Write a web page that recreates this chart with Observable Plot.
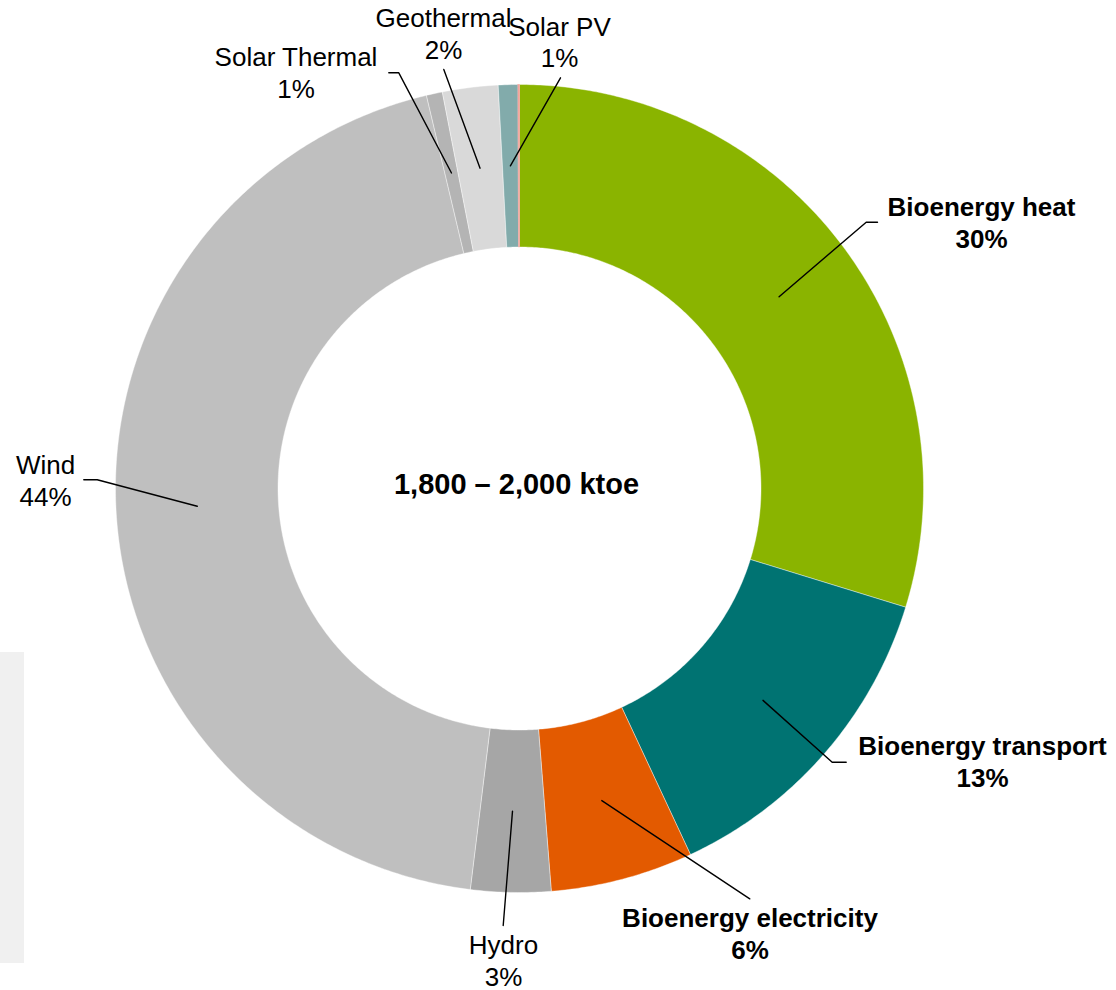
<!DOCTYPE html>
<html><head><meta charset="utf-8">
<script src="https://cdn.jsdelivr.net/npm/d3@7"></script>
<script src="https://cdn.jsdelivr.net/npm/@observablehq/plot@0.6"></script>
<style>
body{margin:0;background:#fff;font-family:"Liberation Sans",Arial,sans-serif;}
#wrap{position:relative;width:1116px;height:990px;overflow:hidden;}
#side{position:absolute;left:0;top:652px;width:24px;height:311px;background:#f0f0f0;}
</style></head><body><div id="wrap"></div>
<script>
// ---- data ----
const sources = ["Bioenergy heat","Bioenergy transport","Bioenergy electricity","Hydro","Wind","Solar Thermal","Geothermal","Solar PV","Other"];
const shares  = [29.75, 13.3, 5.7, 3.2, 44.36, 0.64, 2.22, 0.78, 0.06];
const pctLabels = ["30%","13%","6%","3%","44%","1%","2%","1%",""];
const boldLabel = [true, true, true, false, false, false, false, false, false];
const centerText = "1,800 – 2,000 ktoe";

// ---- styles / layout ----
const colors = ["#8ab400","#007372","#e35a00","#a6a6a6","#bfbfbf","#b4b4b4","#d9d9d9","#82abab","#f4a39c"];
const W = 1116, H = 990, cx = 519, cy = 488, R0 = 404, R1 = 241.5, Rmid = (R0 + R1) / 2;
// leader elbows and label anchors (pixel layout)
const leaderElbows = [
  [[865.7,221.7],[877,221.7]],
  [[831.7,761.7],[845.7,761.7]],
  [[749.3,898.3]],
  [[502.7,925]],
  [[96.7,479.3],[83.3,479.3]],
  [[398.3,72.3],[388.3,72.3]],
  [[443.3,69]],
  [[560,77.3]],
  null
];
const labelAnchors = [[981,247],[982,786],[749.5,958],[503,985],[45,505],[295.5,97],[443,58],[559,66.5],null];

// ---- geometry from data ----
const total = d3.sum(shares);
let acc = 0;
const slices = sources.map((name, i) => {
  const a0 = acc / total * 2 * Math.PI; acc += shares[i];
  const a1 = acc / total * 2 * Math.PI;
  return {name, i, a0, a1, am: (a0 + a1) / 2};
});
const poly = [];
for (const s of slices) {
  const n = Math.max(2, Math.ceil((s.a1 - s.a0) / (Math.PI / 360)));
  const pts = [];
  for (let k = 0; k <= n; k++) { const a = s.a0 + (s.a1 - s.a0) * k / n; pts.push([cx + R0 * Math.sin(a), cy - R0 * Math.cos(a)]); }
  for (let k = n; k >= 0; k--) { const a = s.a0 + (s.a1 - s.a0) * k / n; pts.push([cx + R1 * Math.sin(a), cy - R1 * Math.cos(a)]); }
  pts.push(pts[0]);
  pts.forEach(p => poly.push({name: s.name, x: p[0], y: p[1]}));
}
const leaders = [];
slices.forEach(s => {
  const el = leaderElbows[s.i]; if (!el) return;
  leaders.push({name: s.name, x: cx + Rmid * Math.sin(s.am), y: cy - Rmid * Math.cos(s.am)});
  el.forEach(p => leaders.push({name: s.name, x: p[0], y: p[1]}));
});
const labels = slices.filter(s => labelAnchors[s.i]).map(s => ({
  text: s.name + "\n" + pctLabels[s.i], bold: boldLabel[s.i], x: labelAnchors[s.i][0], y: labelAnchors[s.i][1]
}));

const chart = Plot.plot({
  width: W, height: H, margin: 0,
  style: {background: "transparent", fontFamily: "'Liberation Sans', Arial, sans-serif"},
  x: {domain: [0, W], range: [0, W], axis: null},
  y: {domain: [0, H], range: [0, H], axis: null},
  color: {domain: sources, range: colors},
  marks: [
    Plot.line(poly.filter(d => d.name !== "Other"), {x: "x", y: "y", z: "name", fill: "name", stroke: "white", strokeWidth: 0.4, curve: "linear"}),
    Plot.line(poly.filter(d => d.name === "Other"), {x: "x", y: "y", z: "name", fill: "name", stroke: "name", strokeWidth: 0.6, curve: "linear"}),
    Plot.line(leaders, {x: "x", y: "y", z: "name", stroke: "black", strokeWidth: 1.4}),
    Plot.text(labels.filter(d => d.bold), {x: "x", y: "y", text: "text", fontSize: 26, fontWeight: "bold", lineHeight: 1.2, lineAnchor: "bottom", textAnchor: "middle", fill: "black"}),
    Plot.text(labels.filter(d => !d.bold), {x: "x", y: "y", text: "text", fontSize: 26, lineHeight: 1.2, lineAnchor: "bottom", textAnchor: "middle", fill: "black"}),
    Plot.text([centerText], {x: () => 516, y: () => 493, text: d => d, fontSize: 29, fontWeight: "bold", lineAnchor: "bottom", textAnchor: "middle", fill: "black"})
  ]
});
const wrap = document.getElementById("wrap");
wrap.appendChild(chart);
const side = document.createElement("div"); side.id = "side"; wrap.appendChild(side);
</script></body></html>
